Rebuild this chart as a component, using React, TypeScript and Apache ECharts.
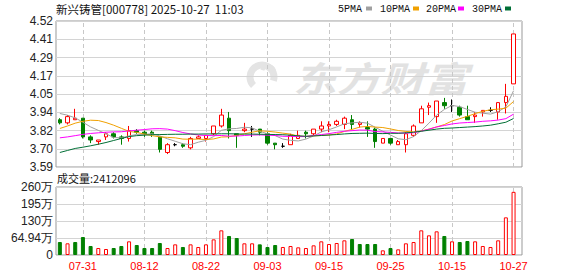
import React, { useEffect, useRef } from "react";
import * as echarts from "echarts";

const dates = [
  "07-28", "07-29", "07-30", "07-31",
  "08-01", "08-04", "08-05", "08-06", "08-07", "08-08", "08-11", "08-12", "08-13", "08-14", "08-15",
  "08-18", "08-19", "08-20", "08-21", "08-22", "08-25", "08-26", "08-27", "08-28", "08-29",
  "09-01", "09-02", "09-03", "09-04", "09-05", "09-08", "09-09", "09-10", "09-11", "09-12",
  "09-15", "09-16", "09-17", "09-18", "09-19", "09-22", "09-23", "09-24", "09-25", "09-26",
  "09-29", "09-30",
  "10-09", "10-10", "10-13", "10-14", "10-15", "10-16", "10-17", "10-20", "10-21", "10-22",
  "10-23", "10-24", "10-27",
];

const opens = [
  3.89, 3.87, 3.89, 3.90, 3.78, 3.75, 3.78, 3.80, 3.78, 3.77,
  3.82, 3.81, 3.81, 3.78, 3.68, 3.73, 3.73, 3.71, 3.77, 3.77,
  3.80, 3.85, 3.90, 3.80, 3.82, 3.83, 3.83, 3.80, 3.74, 3.72,
  3.73, 3.77, 3.81, 3.80, 3.83, 3.85, 3.86, 3.86, 3.89, 3.86,
  3.84, 3.83, 3.74, 3.77, 3.73, 3.73, 3.79, 3.87, 3.97, 3.91,
  4.00, 3.98, 3.97, 3.91, 3.91, 3.94, 3.95, 3.94, 4.00, 4.12,
];
const closes = [
  3.87, 3.91, 3.90, 3.78, 3.76, 3.76, 3.80, 3.78, 3.77, 3.82,
  3.81, 3.80, 3.80, 3.70, 3.73, 3.73, 3.72, 3.77, 3.78, 3.79,
  3.85, 3.92, 3.82, 3.79, 3.83, 3.83, 3.81, 3.74, 3.73, 3.72,
  3.79, 3.79, 3.80, 3.83, 3.85, 3.86, 3.88, 3.90, 3.86, 3.87,
  3.83, 3.75, 3.77, 3.74, 3.75, 3.80, 3.85, 3.96, 3.98, 4.01,
  3.98, 3.98, 3.92, 3.89, 3.92, 3.95, 3.95, 4.00, 4.04, 4.44,
];
const lows = [
  3.86, 3.86, 3.89, 3.77, 3.74, 3.73, 3.76, 3.77, 3.73, 3.75,
  3.80, 3.78, 3.78, 3.68, 3.67, 3.72, 3.71, 3.70, 3.77, 3.75,
  3.79, 3.84, 3.77, 3.71, 3.81, 3.78, 3.79, 3.73, 3.70, 3.71,
  3.73, 3.77, 3.77, 3.79, 3.81, 3.81, 3.85, 3.83, 3.83, 3.84,
  3.78, 3.71, 3.74, 3.73, 3.73, 3.68, 3.78, 3.87, 3.92, 3.87,
  3.96, 3.94, 3.91, 3.89, 3.87, 3.91, 3.94, 3.89, 3.93, 4.12,
];
const highs = [
  3.90, 3.92, 3.96, 3.90, 3.79, 3.76, 3.81, 3.81, 3.79, 3.85,
  3.83, 3.82, 3.82, 3.78, 3.74, 3.74, 3.74, 3.78, 3.79, 3.79,
  3.85, 3.96, 3.94, 3.80, 3.87, 3.85, 3.83, 3.81, 3.74, 3.74,
  3.80, 3.82, 3.82, 3.83, 3.88, 3.88, 3.89, 3.91, 3.92, 3.88,
  3.88, 3.84, 3.77, 3.77, 3.76, 3.81, 3.86, 3.98, 4.00, 4.01,
  4.03, 4.02, 3.98, 3.98, 3.94, 3.95, 3.97, 4.00, 4.12, 4.44,
];

// volume in 万 (10k shares)
const volumes = [
  49.6, 44.6, 49.6, 68.7, 34.4, 26.7, 22.9, 26.7, 34.4, 52.2,
  38.2, 26.7, 26.7, 45.8, 26.7, 40.7, 30.6, 40.7, 30.6, 40.7,
  59.8, 94.2, 72.6, 64.9, 44.6, 44.6, 40.7, 30.6, 38.2, 30.6,
  34.4, 29.3, 26.7, 36.9, 52.2, 42.0, 45.8, 56.0, 61.1, 42.0,
  42.0, 42.0, 17.8, 26.7, 21.6, 44.6, 49.6, 94.2, 75.1, 90.4,
  72.6, 52.2, 49.6, 53.5, 52.2, 34.4, 30.6, 56.0, 143.8, 241.2096,
];
// 1 = red (up) volume bar, 0 = green
const volUp = [
  0, 1, 0, 0, 0, 1, 1, 0, 0, 1,
  0, 0, 0, 0, 1, 1, 0, 1, 1, 1,
  1, 1, 0, 0, 1, 1, 0, 0, 0, 1,
  1, 1, 1, 1, 1, 1, 1, 1, 0, 0,
  0, 0, 1, 0, 1, 1, 1, 1, 1, 1,
  0, 1, 0, 0, 1, 1, 1, 1, 1, 1,
];

const ma5 = [
  3.930, 3.919, 3.902, 3.874, 3.844, 3.822, 3.800, 3.776, 3.774, 3.786,
  3.796, 3.796, 3.800, 3.786, 3.768, 3.752, 3.736, 3.730, 3.746, 3.758,
  3.782, 3.822, 3.832, 3.834, 3.842, 3.838, 3.816, 3.800, 3.788, 3.766,
  3.758, 3.754, 3.766, 3.786, 3.812, 3.826, 3.844, 3.864, 3.870, 3.874,
  3.868, 3.842, 3.816, 3.792, 3.768, 3.762, 3.782, 3.820, 3.868, 3.920,
  3.956, 3.982, 3.974, 3.956, 3.938, 3.932, 3.926, 3.942, 3.972, 4.076,
];
const ma10 = [
  3.834, 3.850, 3.868, 3.880, 3.887, 3.885, 3.872, 3.855, 3.835, 3.815,
  3.809, 3.798, 3.788, 3.780, 3.777, 3.774, 3.766, 3.765, 3.766, 3.763,
  3.767, 3.779, 3.781, 3.790, 3.800, 3.810, 3.819, 3.816, 3.811, 3.804,
  3.798, 3.785, 3.783, 3.787, 3.789, 3.792, 3.799, 3.815, 3.828, 3.843,
  3.847, 3.843, 3.840, 3.831, 3.821, 3.815, 3.812, 3.818, 3.830, 3.844,
  3.859, 3.882, 3.897, 3.912, 3.929, 3.944, 3.954, 3.958, 3.964, 4.007,
];
const ma20 = [
  3.774, 3.780, 3.788, 3.796, 3.802, 3.806, 3.810, 3.812, 3.813, 3.818,
  3.823, 3.827, 3.832, 3.833, 3.830, 3.820, 3.808, 3.799, 3.792, 3.789,
  3.788, 3.789, 3.785, 3.785, 3.789, 3.792, 3.793, 3.791, 3.789, 3.784,
  3.783, 3.782, 3.782, 3.789, 3.795, 3.801, 3.809, 3.816, 3.820, 3.824,
  3.823, 3.814, 3.812, 3.809, 3.805, 3.804, 3.806, 3.817, 3.829, 3.844,
  3.853, 3.863, 3.869, 3.872, 3.875, 3.880, 3.883, 3.888, 3.897, 3.926,
];
const ma30 = [
  3.680, 3.693, 3.706, 3.714, 3.723, 3.733, 3.744, 3.757, 3.770, 3.782,
  3.788, 3.791, 3.794, 3.795, 3.796, 3.797, 3.797, 3.798, 3.798, 3.799,
  3.799, 3.800, 3.800, 3.799, 3.798, 3.798, 3.797, 3.796, 3.795, 3.794,
  3.791, 3.787, 3.784, 3.786, 3.789, 3.792, 3.795, 3.799, 3.802, 3.803,
  3.804, 3.802, 3.801, 3.803, 3.803, 3.806, 3.810, 3.816, 3.823, 3.830,
  3.835, 3.837, 3.840, 3.843, 3.846, 3.850, 3.855, 3.864, 3.874, 3.898,
];

const priceTicks = ["3.59", "3.70", "3.82", "3.94", "4.05", "4.17", "4.29", "4.41", "4.52"];
const volTicks = ["0", "64.94万", "130万", "195万", "260万"];
const priceMin = 3.587;
const priceMax = 4.523;
const volMax = 259.76;

const title = "新兴铸管[000778] 2025-10-27  11:03";
const volTitle = "成交量:2412096";
const maNames = ["5PMA", "10PMA", "20PMA", "30PMA"];
const maColors = ["#a0a0a0", "#f0a000", "#ff00ff", "#006f36"];

const RED = "#ff0000";
const GREEN = "#008000";
const SANS = "'Liberation Sans', Arial, sans-serif";
const CJK = "'Noto Sans CJK SC', sans-serif";

const isLabelIdx = (i: number) => (i - 3) % 8 === 0;
const labelDates = dates.filter((_, i) => isLabelIdx(i));

function buildOption() {
  const candleData = dates.map((_, i) => {
    const v = [opens[i], closes[i], lows[i], highs[i]];
    if (opens[i] === closes[i]) {
      return {
        value: v,
        itemStyle: {
          color: "#000", color0: "#000", borderColor: "#000",
          borderColor0: "#000", borderColorDoji: "#000",
        },
      };
    }
    return v;
  });
  const volData = volumes.map((v, i) => ({
    value: v,
    itemStyle: volUp[i]
      ? { color: "#fff", borderColor: RED, borderWidth: 1 }
      : { color: GREEN, borderColor: GREEN, borderWidth: 1 },
  }));
  const vLines = {
    silent: true,
    symbol: ["none", "none"],
    label: { show: false },
    z: 1,
    animation: false,
    lineStyle: { color: "#c8c8c8", type: [4, 3], width: 1 },
    emphasis: { disabled: true },
    data: labelDates.map((d) => ({ xAxis: d })),
  };

  const frameY = (labels: string[], max: number) => ({
    type: "value",
    min: 0,
    max,
    interval: 1,
    axisLine: { show: false },
    axisTick: { show: false },
    axisLabel: {
      formatter: (v: number) => labels[Math.round(v)],
      color: "#222",
      fontSize: 12,
      fontFamily: SANS,
      margin: 3,
    },
    splitLine: { show: true, lineStyle: { color: "#d4d4d4", width: 1 } },
  });

  const legendEls: any[] = [];
  const legendTextX = [338, 380, 426, 472];
  const legendRectX = [366, 413, 458, 505];
  maNames.forEach((n, i) => {
    legendEls.push({
      type: "text",
      x: legendTextX[i],
      y: 9,
      style: { text: n, fontSize: 10, fontFamily: "'Liberation Mono', monospace", fill: "#111", verticalAlign: "middle" },
    });
    legendEls.push({
      type: "rect",
      shape: { x: legendRectX[i], y: 6.5, width: 6, height: 4 },
      style: { fill: maColors[i] },
    });
  });

  return {
    animation: false,
    backgroundColor: "#fff",
    grid: [
      { left: 56, top: 21, width: 466, height: 146, show: true, borderColor: "#999", borderWidth: 1, backgroundColor: "transparent" },
      { left: 56, top: 21, width: 461.4, height: 146 },
      { left: 56, top: 187, width: 466, height: 68, show: true, borderColor: "#999", borderWidth: 1, backgroundColor: "transparent" },
      { left: 56, top: 187, width: 461.4, height: 68 },
    ],
    xAxis: [
      { type: "value", gridIndex: 0, show: false, min: 0, max: 1 },
      { type: "category", gridIndex: 1, data: dates, show: false, boundaryGap: true },
      { type: "value", gridIndex: 2, show: false, min: 0, max: 1 },
      {
        type: "category", gridIndex: 3, data: dates, boundaryGap: true,
        axisLine: { show: false }, axisTick: { show: false }, splitLine: { show: false },
        axisLabel: { interval: (i: number) => isLabelIdx(i), color: RED, fontSize: 11, fontFamily: SANS, margin: 5 },
      },
    ],
    yAxis: [
      { ...frameY(priceTicks, 8), gridIndex: 0 },
      { type: "value", gridIndex: 1, min: priceMin, max: priceMax, show: false, splitLine: { show: false } },
      { ...frameY(volTicks, 4), gridIndex: 2 },
      { type: "value", gridIndex: 3, min: 0, max: volMax, show: false, splitLine: { show: false } },
    ],
    graphic: [
      {
        type: "text", x: 56, y: 8.5, z: 10,
        style: { text: title, fontSize: 11.5, fontFamily: CJK, fill: "#111", verticalAlign: "middle" },
      },
      {
        type: "text", x: 57, y: 177.5, z: 10,
        style: { text: volTitle, fontSize: 11, fontFamily: CJK, fill: "#111", verticalAlign: "middle" },
      },
      ...legendEls,
      {
        type: "arc", z: -1,
        shape: { cx: 262, cy: 77, r: 12, startAngle: Math.PI * 0.75, endAngle: Math.PI * 2.1 },
        style: { stroke: "#e4e4e4", lineWidth: 7, fill: "none" },
      },
      {
        type: "arc", z: -1,
        shape: { cx: 268, cy: 72, r: 6, startAngle: Math.PI * 1.1, endAngle: Math.PI * 2.3 },
        style: { stroke: "#e4e4e4", lineWidth: 4, fill: "none" },
      },
      {
        type: "text", x: 293, y: 77, z: -1, scaleX: 1.25,
        style: { text: "东方财富", fontSize: 35, fontWeight: "bold", fontStyle: "italic", fontFamily: CJK, fill: "#e2e2e2", verticalAlign: "middle" },
      },
    ],
    series: [
      {
        type: "candlestick",
        xAxisIndex: 1,
        yAxisIndex: 1,
        barWidth: 4,
        data: candleData,
        itemStyle: {
          color: "#fff", color0: GREEN, borderColor: RED, borderColor0: GREEN,
          borderColorDoji: "#000", borderWidth: 1,
        },
        markLine: vLines,
      },
      ...[ma5, ma10, ma20, ma30].map((d, i) => ({
        type: "line",
        name: maNames[i],
        xAxisIndex: 1,
        yAxisIndex: 1,
        data: d,
        symbol: "none",
        showSymbol: false,
        z: 3,
        lineStyle: { color: maColors[i], width: 1 },
        itemStyle: { color: maColors[i] },
      })),
      {
        type: "bar",
        xAxisIndex: 3,
        yAxisIndex: 3,
        barWidth: 4,
        data: volData,
        markLine: vLines,
      },
    ],
  };
}

export default function App() {
  const ref = useRef<HTMLDivElement>(null);
  useEffect(() => {
    if (!ref.current) return;
    const chart = echarts.init(ref.current, null, { renderer: "svg" });
    chart.setOption(buildOption() as any);
    return () => chart.dispose();
  }, []);
  return (
    <div
      ref={ref}
      style={{ position: "fixed", left: 0, top: 0, width: 578, height: 276, background: "#fff" }}
    />
  );
}
